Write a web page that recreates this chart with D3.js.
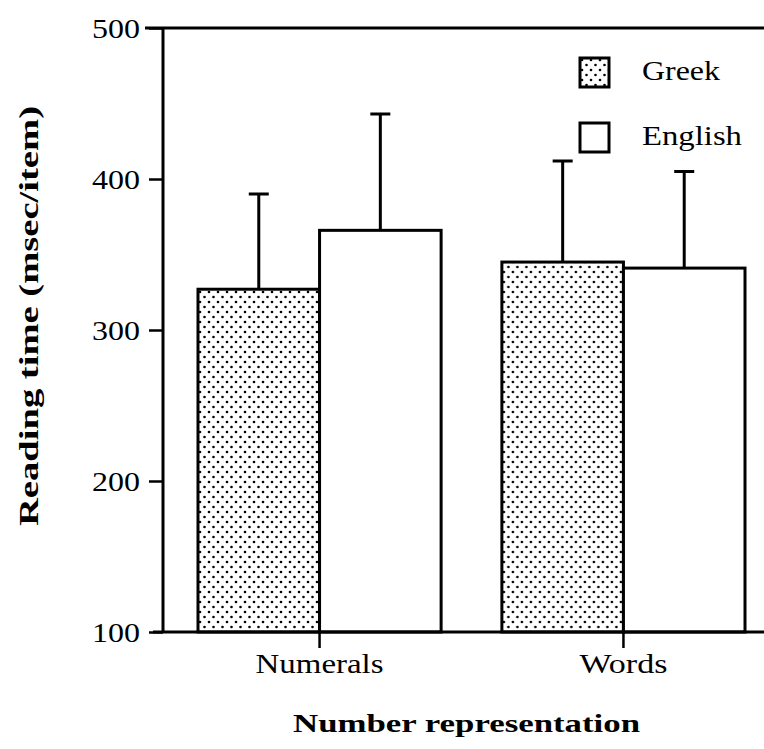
<!DOCTYPE html>
<html>
<head>
<meta charset="utf-8">
<script src="https://cdn.jsdelivr.net/npm/d3@7"></script>
<style>
  html, body { margin: 0; padding: 0; background: #fff; }
  svg { display: block; }
  text { font-family: "Liberation Serif", "Times New Roman", serif; fill: #000; }
</style>
</head>
<body>
<svg id="chart" width="764" height="749"></svg>
<script>
// Reading time by number representation and language
const categories = ["Numerals", "Words"];
const series = ["Greek", "English"];
const greekMeans = [327, 345];
const englishMeans = [366, 341];
const greekSD = [63, 67];
const englishSD = [77, 64];
const yTicks = [100, 200, 300, 400, 500];

const rows = categories.map((c, i) => ({
  category: c,
  values: [
    { series: "Greek", mean: greekMeans[i], sd: greekSD[i] },
    { series: "English", mean: englishMeans[i], sd: englishSD[i] }
  ]
}));

const axisX = 163, rightX = 764;
const svg = d3.select("#chart");

const y = d3.scaleLinear().domain([100, 500]).range([632, 28]);
const x0 = d3.scaleBand().domain(categories).range([198, 745]).paddingInner(0.2).paddingOuter(0);
const x1 = d3.scaleBand().domain(series).range([0, x0.bandwidth()]);

// dotted fill for the Greek bars
const defs = svg.append("defs");
const pat = defs.append("pattern")
  .attr("id", "dots").attr("patternUnits", "userSpaceOnUse")
  .attr("width", 9).attr("height", 10);
pat.append("circle").attr("cx", 2).attr("cy", 2).attr("r", 1.3).attr("fill", "#000");
pat.append("circle").attr("cx", 6.5).attr("cy", 7).attr("r", 1.3).attr("fill", "#000");

const fillFor = s => s === "Greek" ? "url(#dots)" : "#fff";

// bars
const groups = svg.append("g").selectAll("g").data(rows).join("g")
  .attr("transform", d => `translate(${x0(d.category)},0)`);

groups.selectAll("rect").data(d => d.values).join("rect")
  .attr("x", d => x1(d.series))
  .attr("y", d => y(d.mean))
  .attr("width", x1.bandwidth())
  .attr("height", d => y(100) - y(d.mean))
  .attr("fill", d => fillFor(d.series))
  .attr("stroke", "#000").attr("stroke-width", 3);

// error bars (upper only)
groups.selectAll("path.err").data(d => d.values).join("path")
  .attr("class", "err")
  .attr("d", d => {
    const cx = x1(d.series) + x1.bandwidth() / 2;
    const top = y(d.mean + d.sd), base = y(d.mean);
    return `M${cx},${base}V${top}M${cx - 10},${top}H${cx + 10}`;
  })
  .attr("fill", "none").attr("stroke", "#000").attr("stroke-width", 3);

// y axis
const yAxis = d3.axisLeft(y).tickValues(yTicks).tickSize(14).tickPadding(9).tickFormat(d3.format("d"));
const gy = svg.append("g").attr("transform", `translate(${axisX},0)`).call(yAxis);
gy.select(".domain").attr("stroke-width", 3).attr("d", `M0,${y(500)}V${y(100)}`);
gy.selectAll(".tick line").attr("stroke-width", 2.5);
gy.selectAll(".tick text")
  .attr("font-size", 28).attr("font-family", "Liberation Serif").attr("dy", "0.34em")
  .attr("textLength", 48).attr("lengthAdjust", "spacingAndGlyphs");

// top rule and baseline span the full width
svg.append("line").attr("x1", axisX - 18).attr("x2", rightX).attr("y1", y(500)).attr("y2", y(500))
  .attr("stroke", "#000").attr("stroke-width", 3);
svg.append("line").attr("x1", axisX - 10).attr("x2", rightX).attr("y1", y(100)).attr("y2", y(100))
  .attr("stroke", "#000").attr("stroke-width", 3);

// x axis ticks and category labels
const xc = d => x0(d) + x0.bandwidth() / 2;
const catWidth = { Numerals: 128, Words: 88 };
svg.append("g").selectAll("line").data(categories).join("line")
  .attr("x1", xc).attr("x2", xc).attr("y1", y(100)).attr("y2", y(100) + 16)
  .attr("stroke", "#000").attr("stroke-width", 2.5);
svg.append("g").selectAll("text").data(categories).join("text")
  .attr("x", d => xc(d) - catWidth[d] / 2).attr("y", 673)
  .attr("font-size", 28)
  .attr("textLength", d => catWidth[d]).attr("lengthAdjust", "spacingAndGlyphs")
  .text(d => d);

// axis titles
svg.append("text")
  .attr("transform", `translate(38,316) rotate(-90)`)
  .attr("x", -210)
  .attr("font-size", 28).attr("font-weight", "bold")
  .attr("font-family", "DejaVu Serif")
  .attr("textLength", 420).attr("lengthAdjust", "spacingAndGlyphs")
  .text("Reading time (msec/item)");
svg.append("text")
  .attr("x", 293).attr("y", 732)
  .attr("font-size", 26).attr("font-weight", "bold")
  .attr("font-family", "DejaVu Serif")
  .attr("textLength", 347).attr("lengthAdjust", "spacingAndGlyphs")
  .text("Number representation");

// legend
const legendWidth = { Greek: 78, English: 100 };
const legend = svg.append("g").selectAll("g").data(series).join("g")
  .attr("transform", (d, i) => `translate(580,${58 + i * 65})`);
legend.append("rect")
  .attr("width", 29).attr("height", 29)
  .attr("fill", d => fillFor(d))
  .attr("stroke", "#000").attr("stroke-width", 3);
legend.append("text")
  .attr("x", 62).attr("y", 22)
  .attr("font-size", 27)
  .attr("textLength", d => legendWidth[d]).attr("lengthAdjust", "spacingAndGlyphs")
  .text(d => d);
</script>
</body>
</html>
